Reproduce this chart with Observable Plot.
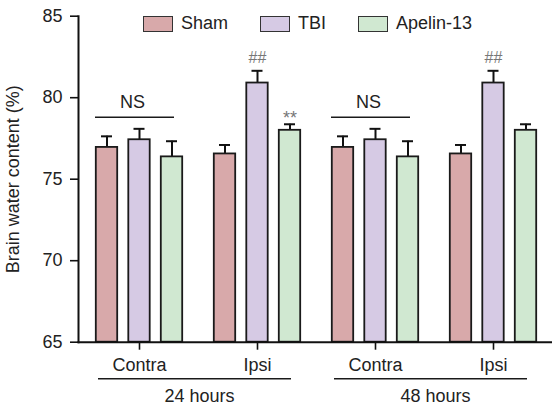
<!DOCTYPE html>
<html>
<head>
<meta charset="utf-8">
<script src="https://cdn.jsdelivr.net/npm/d3@7"></script>
<script src="https://cdn.jsdelivr.net/npm/@observablehq/plot@0.6"></script>
<style>
  html, body { margin: 0; padding: 0; background: #fff; }
  #wrap { position: relative; width: 552px; height: 408px; font-family: "Liberation Sans", Arial, sans-serif; }
  #legend { position: absolute; top: 13px; left: 143px; display: flex; align-items: center; gap: 32px; font-size: 18px; color: #222; }
  .item { display: flex; align-items: center; gap: 8px; }
  .sw { width: 28px; height: 14px; border: 1px solid #333; }
  svg { display: block; }
</style>
</head>
<body>
<div id="wrap"><div id="legend"></div></div>
<script>
// ---- data ----
const times = ["24 hours", "24 hours", "48 hours", "48 hours"];
const sides = ["Contra", "Ipsi", "Contra", "Ipsi"];
const series = ["Sham", "TBI", "Apelin-13"];
const colors = ["#d8a9aa", "#d6cae4", "#d0e8d1"];
const shamMean = [76.95, 76.55, 76.95, 76.55];
const shamSE   = [0.68, 0.55, 0.68, 0.55];
const tbiMean  = [77.42, 80.9, 77.42, 80.9];
const tbiSE    = [0.67, 0.75, 0.67, 0.75];
const apelinMean = [76.37, 78.0, 76.37, 78.0];
const apelinSE   = [0.96, 0.37, 0.96, 0.37];
const yTicks = [65, 70, 75, 80, 85];
const nsLevel = 78.8;
const nsGroups = ["24 hours|Contra", "48 hours|Contra"];
const hashGroups = ["24 hours|Ipsi", "48 hours|Ipsi"];   // "##" on TBI
const starGroups = ["24 hours|Ipsi"];                    // "**" on Apelin-13

// ---- table ----
const keys = times.map((t, i) => `${t}|${sides[i]}`);
const means = [shamMean, tbiMean, apelinMean];
const ses = [shamSE, tbiSE, apelinSE];
const rows = [];
series.forEach((s, si) => keys.forEach((k, gi) => rows.push({
  key: k, time: times[gi], side: sides[gi], series: s, si,
  mean: means[si][gi], top: means[si][gi] + ses[si][gi]
})));
const timeRows = [...new Set(times)].map(t => ({time: t, contra: `${t}|Contra`, ipsi: `${t}|Ipsi`}));

const step = 32.5;
const marks = [];
series.forEach((s, si) => {
  const d = rows.filter(r => r.si === si);
  const dx = (si - 1) * step;
  marks.push(Plot.ruleX(d, {x: "key", y1: "mean", y2: "top", dx, stroke: "#111", strokeWidth: 2}));
  marks.push(Plot.tickY(d, {x: "key", y: "top", dx, stroke: "#111", strokeWidth: 2, insetLeft: 53.5, insetRight: 53.5}));
  marks.push(Plot.barY(d, {x: "key", y1: yTicks[0], y2: "mean", dx, fill: colors[si], stroke: "#1a1a1a", strokeWidth: 1.8, insetLeft: 48.3, insetRight: 48.3}));
});
// NS brackets
marks.push(Plot.tickY(nsGroups, {x: d => d, y: () => nsLevel, stroke: "#1a1a1a", strokeWidth: 1.6, insetLeft: 15, insetRight: 24}));
marks.push(Plot.text(nsGroups, {x: d => d, y: () => nsLevel, text: () => "NS", dx: -7, dy: -15, fontSize: 18, fill: "#222"}));
// significance marks
marks.push(Plot.text(rows.filter(r => r.series === "TBI" && hashGroups.includes(r.key)), {x: "key", y: "top", text: () => "##", dy: -12.5, fontSize: 16, fill: "#777"}));
marks.push(Plot.text(rows.filter(r => r.series === "Apelin-13" && starGroups.includes(r.key)), {x: "key", y: "top", text: () => "**", dx: step, dy: -6.3, fontSize: 18, fill: "#777"}));
// time grouping lines and labels
marks.push(Plot.tickY(timeRows, {x: "contra", y: () => yTicks[0], dy: 36.6, stroke: "#1a1a1a", strokeWidth: 1.5, insetLeft: 18, insetRight: 0}));
marks.push(Plot.tickY(timeRows, {x: "ipsi", y: () => yTicks[0], dy: 36.6, stroke: "#1a1a1a", strokeWidth: 1.5, insetLeft: 0, insetRight: 25}));
marks.push(Plot.text(timeRows, {x: "contra", y: () => yTicks[0], text: "time", dx: 60, dy: 54, fontSize: 18, fill: "#222"}));
// axes
marks.push(Plot.axisY({ticks: yTicks, tickSize: 8, tickPadding: 8, fontSize: 18, stroke: "#111", strokeWidth: 1.6, color: "#222",
  label: "Brain water content (%)", labelAnchor: "center", labelArrow: false, labelOffset: 72}));
marks.push(Plot.axisX({tickSize: 8, tickPadding: 8, fontSize: 18, tickFormat: k => k.split("|")[1], stroke: "#111", strokeWidth: 1.6, color: "#222", label: null}));
marks.push(Plot.frame({anchor: "left", stroke: "#111", strokeWidth: 2}));
marks.push(Plot.frame({anchor: "bottom", stroke: "#111", strokeWidth: 2}));

const chart = Plot.plot({
  width: 552, height: 408,
  marginTop: 15.7, marginBottom: 66.3, marginLeft: 78, marginRight: 0,
  style: {fontFamily: "'Liberation Sans', Arial, sans-serif", fontSize: "18px", color: "#222", overflow: "visible"},
  x: {type: "band", domain: keys, range: [79, 553], padding: 0, axis: null},
  y: {domain: [yTicks[0], yTicks[yTicks.length - 1]], axis: null},
  marks
});
const wrap = document.getElementById("wrap");
wrap.insertBefore(chart, wrap.firstChild);

const legend = document.getElementById("legend");
series.forEach((s, i) => {
  const it = document.createElement("div"); it.className = "item";
  const sw = document.createElement("div"); sw.className = "sw"; sw.style.background = colors[i];
  const tx = document.createElement("span"); tx.textContent = s;
  it.appendChild(sw); it.appendChild(tx); legend.appendChild(it);
});
</script>
</body>
</html>
